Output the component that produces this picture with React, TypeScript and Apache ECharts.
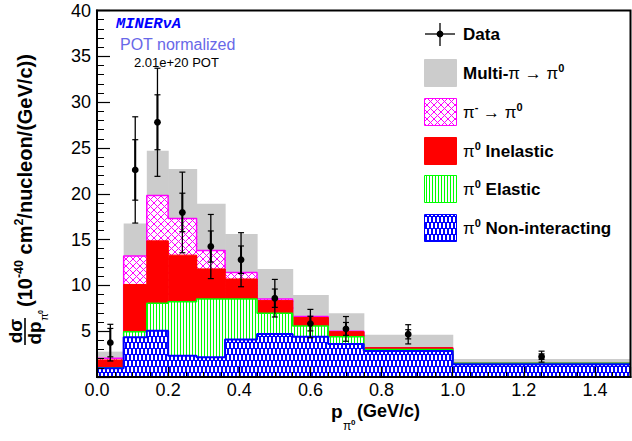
import React, { useEffect, useRef } from 'react';
import * as echarts from 'echarts';

// ---- data ----
const binEdges = [0, 0.075, 0.14, 0.2, 0.28, 0.36, 0.45, 0.55, 0.65, 0.75, 1.0, 1.5];
const nonInteracting = [0.95, 4.34, 5.06, 2.33, 2.15, 4.1, 4.7, 4.4, 3.6, 2.84, 1.38];
const elastic = [0.05, 0.61, 2.99, 5.87, 6.35, 4.4, 2.26, 1.17, 0.8, 0.16, 0.12];
const inelastic = [0.86, 5.15, 6.81, 5.1, 3.3, 2.2, 1.38, 0.93, 0.55, 0.2, 0.0];
const piMinus = [0.18, 3.1, 4.94, 4.0, 2.0, 0.7, 0.16, 0.1, 0.05, 0.0, 0.0];
const multiPi = [0.73, 3.55, 4.9, 5.4, 5.1, 4.2, 3.3, 2.36, 1.96, 1.4, 0.47];
const dataValues = [3.75, 22.6, 27.8, 17.96, 14.24, 12.8, 8.6, 5.83, 5.25, 4.66, 2.22];
const totalErrors = [2.0, 5.8, 5.9, 4.4, 3.5, 2.95, 2.05, 1.55, 1.35, 1.05, 0.6];
const statErrors = [1.55, 3.3, 3.0, 2.1, 1.7, 1.5, 1.0, 0.8, 0.7, 0.5, 0.3];

const W = 632;
const H = 441;
const SANS = '"Liberation Sans", Arial, sans-serif';

function makePattern(w: number, h: number, draw: (ctx: CanvasRenderingContext2D) => void) {
  const c = document.createElement('canvas');
  c.width = w;
  c.height = h;
  const ctx = c.getContext('2d')!;
  draw(ctx);
  return { image: c, repeat: 'repeat', imageWidth: w, imageHeight: h } as any;
}

export default function App() {
  const ref = useRef<HTMLDivElement>(null);
  useEffect(() => {
    const chart = echarts.init(ref.current!, null, { renderer: 'svg' });

    const bluePat = makePattern(8, 12, (ctx) => {
      ctx.fillStyle = '#0000ff';
      ctx.fillRect(0, 0, 8, 12);
      ctx.fillStyle = '#ffffff';
      ctx.fillRect(1, 1, 2, 5);
      ctx.fillRect(5, 1, 2, 5);
      ctx.fillRect(3, 7, 2, 5);
      ctx.fillRect(7, 7, 1, 5);
      ctx.fillRect(0, 7, 1, 5);
    });
    const greenPat = makePattern(3, 1, (ctx) => {
      ctx.fillStyle = '#ffffff';
      ctx.fillRect(0, 0, 3, 1);
      ctx.fillStyle = '#00ff00';
      ctx.fillRect(0, 0, 1, 1);
    });
    const magentaPat = makePattern(7, 7, (ctx) => {
      ctx.fillStyle = '#ffffff';
      ctx.fillRect(0, 0, 7, 7);
      ctx.fillStyle = '#ff00ff';
      for (let i = 0; i < 7; i++) {
        ctx.fillRect(i, i, 1, 1);
        ctx.fillRect(6 - i, i, 1, 1);
      }
    });

    // bottom -> top
    const layers = [
      { name: 'π0 Non-interacting', values: nonInteracting, fill: bluePat, line: '#0000ff', lw: 2 },
      { name: 'π0 Elastic', values: elastic, fill: greenPat, line: '#00ff00', lw: 1.5 },
      { name: 'π0 Inelastic', values: inelastic, fill: '#ff0000', line: '#ff0000', lw: 1 },
      { name: 'π- → π0', values: piMinus, fill: magentaPat, line: '#ff00ff', lw: 1.5 },
      { name: 'Multi-π → π0', values: multiPi, fill: '#cccccc', line: '#cccccc', lw: 0 },
    ];
    const cum: number[][] = [];
    layers.forEach((l, k) => {
      cum.push(l.values.map((v, i) => (k === 0 ? 0 : cum[k - 1][i]) + v));
    });

    const series: any[] = [];
    let z = 2;
    for (let k = layers.length - 1; k >= 0; k--) {
      const L = layers[k];
      const tops = cum[k];
      series.push({
        type: 'custom',
        name: L.name,
        z: z++,
        silent: true,
        clip: true,
        data: tops.map((t, i) => [binEdges[i], binEdges[i + 1], t]),
        encode: { x: [0, 1], y: 2 },
        renderItem: (params: any, api: any) => {
          const p0 = api.coord([api.value(0), 0]);
          const p1 = api.coord([api.value(1), api.value(2)]);
          return {
            type: 'rect',
            shape: { x: p0[0], y: p1[1], width: p1[0] - p0[0] + 0.6, height: p0[1] - p1[1] },
            style: { fill: L.fill, stroke: null },
          };
        },
      });
      if (L.lw > 0) {
        const pts = tops.map((t, i) => [binEdges[i], t]);
        pts.push([binEdges[binEdges.length - 1], tops[tops.length - 1]]);
        series.push({
          type: 'line',
          step: 'end',
          symbol: 'none',
          silent: true,
          z: z++,
          data: pts,
          lineStyle: { color: L.line, width: L.lw },
        });
      } else {
        z++;
      }
    }

    series.push({
      type: 'custom',
      name: 'Data',
      z: 30,
      silent: true,
      data: dataValues.map((v, i) => [(binEdges[i] + binEdges[i + 1]) / 2, v, totalErrors[i], statErrors[i]]),
      encode: { x: 0, y: 1 },
      renderItem: (params: any, api: any) => {
        const x = api.value(0);
        const y = api.value(1);
        const t = api.value(2);
        const s = api.value(3);
        const c = api.coord([x, y]);
        const tt = api.coord([x, y + t]);
        const tb = api.coord([x, y - t]);
        const st = api.coord([x, y + s]);
        const sb = api.coord([x, y - s]);
        const black = { stroke: '#000', lineWidth: 1.2 };
        const tick = (p: number[]) => ({
          type: 'line',
          shape: { x1: p[0] - 3, y1: p[1], x2: p[0] + 3, y2: p[1] },
          style: black,
        });
        return {
          type: 'group',
          children: [
            { type: 'line', shape: { x1: tt[0], y1: tt[1], x2: tb[0], y2: tb[1] }, style: { stroke: '#000', lineWidth: 1.3 } },
            { type: 'line', shape: { x1: st[0], y1: st[1], x2: sb[0], y2: sb[1] }, style: { stroke: '#000', lineWidth: 2 } },
            tick(tt),
            tick(tb),
            tick(st),
            tick(sb),
            { type: 'circle', shape: { cx: c[0], cy: c[1], r: 3.4 }, style: { fill: '#000' } },
          ],
        };
      },
    });

    const legendTop = [59, 98, 137, 175, 214];
    const legendEntries = [
      { fill: '#cccccc', stroke: '#cccccc', text: '{b|Multi-}{g|π → π}{sup|0}' },
      { fill: magentaPat, stroke: '#ff00ff', text: '{g|π}{sup|-}{g| → π}{sup|0}' },
      { fill: '#ff0000', stroke: '#ff0000', text: '{g|π}{sup|0}{b| Inelastic}' },
      { fill: greenPat, stroke: '#00ff00', text: '{g|π}{sup|0}{b| Elastic}' },
      { fill: bluePat, stroke: '#0000ff', text: '{g|π}{sup|0}{b| Non-interacting}' },
    ];
    const legendRich = {
      b: { fontSize: 17, fontWeight: 'bold', fontFamily: SANS, fill: '#000', lineHeight: 22 },
      g: { fontSize: 17, fontWeight: 'normal', fontFamily: SANS, fill: '#000', lineHeight: 22 },
      sup: { fontSize: 11, fontWeight: 'bold', fontFamily: SANS, fill: '#000', lineHeight: 11, verticalAlign: 'top' },
    };

    const graphics: any[] = [];
    // legend: Data
    graphics.push({ type: 'line', shape: { x1: 425, y1: 34, x2: 455, y2: 34 }, style: { stroke: '#000', lineWidth: 1.3 }, z: 50 });
    graphics.push({ type: 'line', shape: { x1: 440, y1: 23, x2: 440, y2: 46 }, style: { stroke: '#000', lineWidth: 1.3 }, z: 50 });
    graphics.push({ type: 'circle', shape: { cx: 440, cy: 34, r: 3.4 }, style: { fill: '#000' }, z: 50 });
    graphics.push({
      type: 'text', x: 463, y: 34, z: 50,
      style: { text: 'Data', fontSize: 17, fontWeight: 'bold', fontFamily: SANS, fill: '#000', verticalAlign: 'middle' },
    });
    legendEntries.forEach((e, i) => {
      graphics.push({
        type: 'rect', z: 50,
        shape: { x: 424.5, y: legendTop[i] + 0.5, width: 32, height: 27 },
        style: { fill: e.fill, stroke: e.stroke, lineWidth: 1 },
      });
      graphics.push({
        type: 'text', x: 463, y: legendTop[i] + 14, z: 50,
        style: { text: e.text, rich: legendRich, verticalAlign: 'middle', fill: '#000' },
      });
    });

    // top-left labels
    graphics.push({
      type: 'text', x: 116, y: 24, z: 50,
      style: { text: 'MINERνA', fontSize: 15.5, fontWeight: 'bold', fontStyle: 'italic', fontFamily: '"Liberation Mono", "DejaVu Sans Mono", monospace', fill: '#0000ff', verticalAlign: 'middle' },
    });
    graphics.push({
      type: 'text', x: 120, y: 44, z: 50,
      style: { text: 'POT normalized', fontSize: 16, fontFamily: SANS, fill: '#6868e8', verticalAlign: 'middle' },
    });
    graphics.push({
      type: 'text', x: 134, y: 62, z: 50,
      style: { text: '2.01e+20 POT', fontSize: 13, fontFamily: SANS, fill: '#000', verticalAlign: 'middle' },
    });

    // x-axis title
    graphics.push({
      type: 'text', x: 331, y: 411, z: 50,
      style: { text: 'p', fontSize: 19, fontWeight: 'bold', fontFamily: SANS, fill: '#000', verticalAlign: 'middle' },
    });
    graphics.push({
      type: 'text', x: 343, y: 426, z: 50,
      style: { text: 'π', fontSize: 12, fontFamily: SANS, fill: '#000', verticalAlign: 'middle' },
    });
    graphics.push({
      type: 'text', x: 351, y: 422, z: 50,
      style: { text: '0', fontSize: 8, fontWeight: 'bold', fontFamily: SANS, fill: '#000', verticalAlign: 'middle' },
    });
    graphics.push({
      type: 'text', x: 357, y: 411, z: 50,
      style: { text: '(GeV/c)', fontSize: 18, fontWeight: 'bold', fontFamily: SANS, fill: '#000', verticalAlign: 'middle' },
    });

    // y-axis title (rotated group)
    graphics.push({
      type: 'group', x: 27, y: 347, rotation: Math.PI / 2, z: 50,
      children: [
        { type: 'text', x: 16, y: -12, style: { text: 'dσ', fontSize: 19, fontWeight: 'bold', fontFamily: SANS, fill: '#000', align: 'center', verticalAlign: 'middle' } },
        { type: 'line', shape: { x1: 2, y1: -2, x2: 29, y2: -2 }, style: { stroke: '#000', lineWidth: 1.6 } },
        { type: 'text', x: 14, y: 7, style: { text: 'dp', fontSize: 19, fontWeight: 'bold', fontFamily: SANS, fill: '#000', align: 'center', verticalAlign: 'middle' } },
        { type: 'text', x: 30, y: 17, style: { text: 'π', fontSize: 11, fontFamily: SANS, fill: '#000', align: 'center', verticalAlign: 'middle' } },
        { type: 'text', x: 35, y: 13, style: { text: '0', fontSize: 7, fontWeight: 'bold', fontFamily: SANS, fill: '#000', align: 'center', verticalAlign: 'middle' } },
        {
          type: 'text', x: 40, y: -2,
          style: {
            text: '{m|(10}{s|-40}{m| cm}{s|2}{m|/nucleon/(GeV/c))}',
            verticalAlign: 'middle',
            align: 'left',
            rich: {
              m: { fontSize: 20, fontWeight: 'bold', fontFamily: SANS, fill: '#000', lineHeight: 26 },
              s: { fontSize: 12.5, fontWeight: 'bold', fontFamily: SANS, fill: '#000', lineHeight: 12, verticalAlign: 'top' },
            },
          },
        },
      ],
    });

    const option: any = {
      animation: false,
      backgroundColor: '#ffffff',
      grid: { left: 97, right: 1.5, top: 10.5, bottom: 64, show: true, borderColor: '#000', borderWidth: 2, backgroundColor: 'transparent', z: 40 },
      xAxis: {
        type: 'value', min: 0, max: 1.5, interval: 0.2, z: 40,
        axisLine: { show: true, onZero: false, lineStyle: { color: '#000', width: 2 } },
        axisTick: { show: true, inside: true, length: 10, lineStyle: { color: '#000', width: 1.2 } },
        minorTick: { show: true, splitNumber: 4, length: 5, lineStyle: { color: '#000', width: 1 } },
        axisLabel: {
          show: true, margin: 4, fontSize: 18, fontFamily: SANS, color: '#000', showMaxLabel: false,
          formatter: (v: number) => v.toFixed(1),
        },
        splitLine: { show: false },
      },
      yAxis: {
        type: 'value', min: 0, max: 40, interval: 5, z: 40,
        axisLine: { show: true, onZero: false, lineStyle: { color: '#000', width: 2 } },
        axisTick: { show: true, inside: true, length: 13, lineStyle: { color: '#000', width: 1.2 } },
        minorTick: { show: true, splitNumber: 5, length: 7, lineStyle: { color: '#000', width: 1 } },
        axisLabel: { show: true, margin: 6, fontSize: 18, fontFamily: SANS, color: '#000', showMinLabel: false },
        splitLine: { show: false },
      },
      series,
      graphic: { elements: graphics },
    };
    chart.setOption(option);
    return () => chart.dispose();
  }, []);
  return (
    <div
      ref={ref}
      style={{ position: 'absolute', left: 0, top: 0, width: W, height: H, background: '#fff' }}
    />
  );
}
